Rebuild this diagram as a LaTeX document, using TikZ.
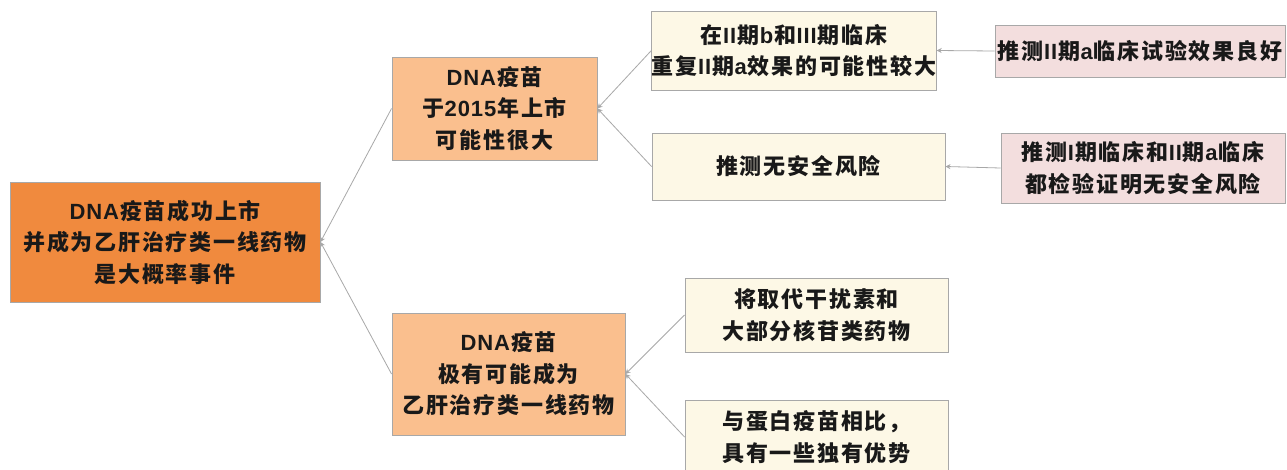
\documentclass[tikz,border=0pt]{standalone}
\usepackage{fontspec}
\usetikzlibrary{arrows.meta}
\newfontfamily\cjk[LetterSpace=8]{Noto Sans CJK SC}
\newfontfamily\latf[LetterSpace=4]{Liberation Sans}
\newcommand{\lt}[1]{\kern0.5pt{\latf\bfseries #1}\kern1pt}
\definecolor{rootfill}{HTML}{F08A3E}
\definecolor{midfill}{HTML}{FABF8E}
\definecolor{leaffill}{HTML}{FDF8E6}
\definecolor{pinkfill}{HTML}{F3DEDE}
\definecolor{edgegrey}{HTML}{A8A8A8}
\tikzset{
  box/.style={draw=edgegrey, line width=0.9pt, align=center, inner sep=0pt,
    font=\cjk\bfseries\fontsize{22}{31.5}\selectfont, text=black!90},
  rootbox/.style={box, fill=rootfill},
  midbox/.style={box, fill=midfill},
  leafbox/.style={box, fill=leaffill},
  pinkbox/.style={box, fill=pinkfill},
  conn/.style={draw=edgegrey, line width=0.8pt, -{Stealth[length=5pt,width=5pt]}},
}
\begin{document}
\begin{tikzpicture}[x=1pt,y=-1pt]
\useasboundingbox (0,0) rectangle (1287,469);
\clip (0,0) rectangle (1287,469);
\fill[white] (0,0) rectangle (1287,469);
\node[rootbox, minimum width=310pt, minimum height=120pt] (root) at (165,242)
  {\lt{DNA}疫苗成功上市\\并成为乙肝治疗类一线药物\\是大概率事件};
\node[midbox, minimum width=205pt, minimum height=103pt] (mid1) at (494.5,108.5)
  {\lt{DNA}疫苗\\于\lt{2015}年上市\\可能性很大};
\node[midbox, minimum width=233pt, minimum height=122pt] (mid2) at (508.5,374)
  {\lt{DNA}疫苗\\极有可能成为\\乙肝治疗类一线药物};
\node[leafbox, minimum width=284pt, minimum height=79pt] (leaf1) at (794,50.5)
  {在\lt{II}期\lt{b}和\lt{III}期临床\\重复\lt{II}期\lt{a}效果的可能性较大};
\node[leafbox, minimum width=293pt, minimum height=67pt] (leaf2) at (798.5,166.5)
  {推测无安全风险};
\node[leafbox, minimum width=263pt, minimum height=74pt] (leaf3) at (816.5,315)
  {将取代干扰素和\\大部分核苷类药物};
\node[leafbox, minimum width=263pt, minimum height=74pt] (leaf4) at (816.5,437)
  {与蛋白疫苗相比，\\具有一些独有优势};
\node[pinkbox, minimum width=290pt, minimum height=52pt] (r1) at (1140,51)
  {推测\lt{II}期\lt{a}临床试验效果良好};
\node[pinkbox, minimum width=284pt, minimum height=70pt] (r2) at (1143,168)
  {推测\lt{I}期临床和\lt{II}期\lt{a}临床\\都检验证明无安全风险};
\draw[conn] (mid1.west) -- (root.east);
\draw[conn] (mid2.west) -- (root.east);
\draw[conn] (leaf1.west) -- (mid1.east);
\draw[conn] (leaf2.west) -- (mid1.east);
\draw[conn] (leaf3.west) -- (mid2.east);
\draw[conn] (leaf4.west) -- (mid2.east);
\draw[conn] (r1.west) -- (leaf1.east);
\draw[conn] (r2.west) -- (leaf2.east);
\end{tikzpicture}
\end{document}
